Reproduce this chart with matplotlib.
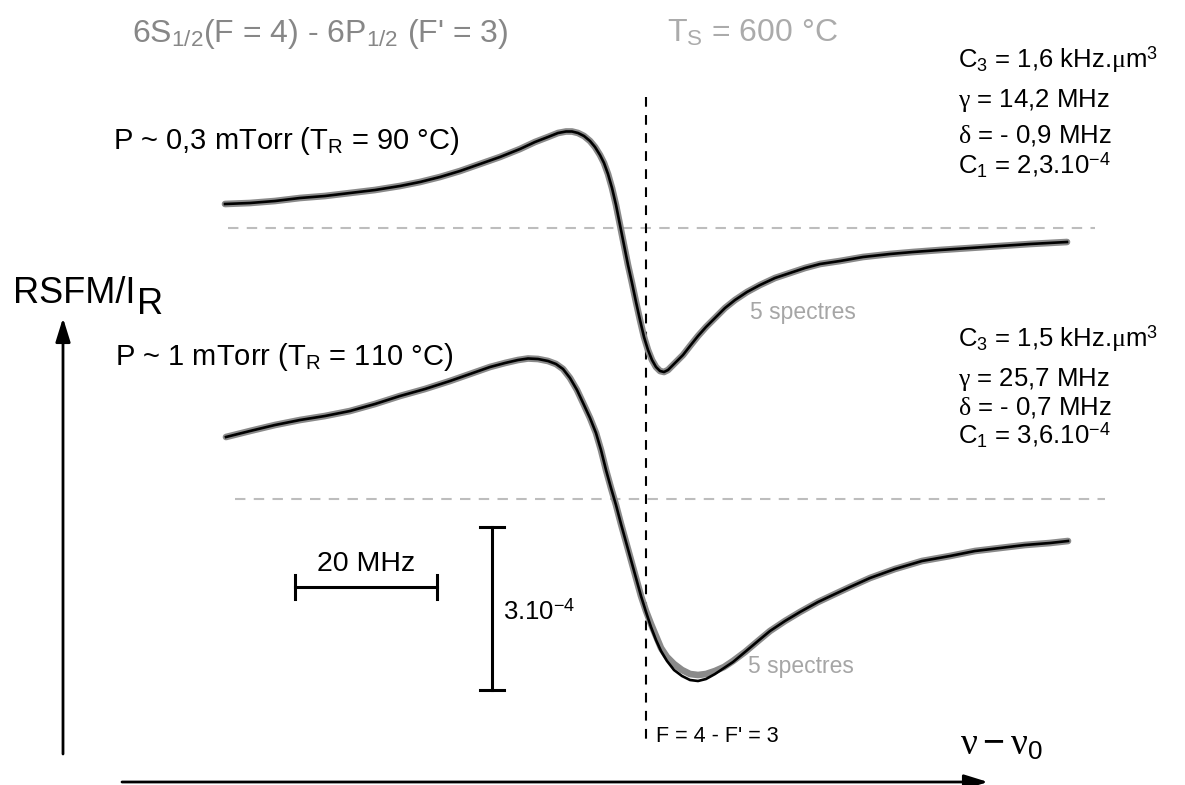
import matplotlib
matplotlib.use('Agg')
import matplotlib.pyplot as plt

plt.rcParams['font.family'] = ['Liberation Sans', 'DejaVu Sans']
plt.rcParams['mathtext.fontset'] = 'custom'
plt.rcParams['mathtext.rm'] = 'Liberation Sans'
plt.rcParams['mathtext.it'] = 'Liberation Serif'
plt.rcParams['mathtext.bf'] = 'Liberation Sans:bold'
plt.rcParams['lines.scale_dashes'] = False

# spectra (x, y in pixels of the original figure, y downward)
top_x = [225, 250, 275, 300, 325, 350, 375, 400, 420, 440, 460, 480, 500, 520, 535,
         548, 558, 566, 572, 578, 584, 590, 595, 600, 604, 608, 612, 616, 620, 624,
         628, 632, 636, 640, 644, 648, 652, 656, 660, 664, 668, 672, 677, 683, 690,
         698, 706, 715, 725, 735, 747, 760, 775, 790, 805, 820, 840, 863, 890, 913,
         940, 970, 1000, 1030, 1067]
top_y = [204, 203, 201, 198, 196, 193, 190, 186, 182, 177, 171, 164, 157, 149, 142,
         137, 133, 131.5, 131.5, 133, 136, 141, 147, 155, 163, 174, 188, 205, 225, 245,
         265, 283, 302, 320, 337, 350, 360, 367, 371, 372, 370, 366, 361, 355, 346,
         336, 327, 318, 308, 300, 292, 285, 278, 273, 268, 264, 261, 257, 254, 252,
         250, 248, 246, 244, 242]

bot_x = [226, 250, 275, 300, 325, 350, 375, 400, 425, 450, 470, 490, 505, 518, 528,
         538, 548, 556, 563, 570, 577, 584, 590, 596, 601, 606, 611, 616, 621, 626,
         631, 636, 641, 646, 651, 656, 661, 667, 674, 682, 690, 698, 706, 715, 724,
         733, 745, 758, 770, 785, 800, 818, 835, 850, 870, 895, 922, 950, 975, 1000,
         1025, 1050, 1068]
bot_y = [437, 431, 425, 420, 416, 411, 404, 396, 389, 381, 374, 367, 363, 360, 358.5,
         359, 361, 364, 369, 378, 390, 405, 418, 433, 450, 470, 488, 505, 524, 542,
         560, 578, 596, 612, 627, 640, 651, 661, 670, 676, 680, 681, 679, 674, 668,
         662, 652, 641, 631, 621, 612, 602, 594, 587, 578, 569, 561, 556, 551, 548,
         545, 543, 541]
# measured data (grey) runs a little above the fit around the lower minimum
bot_data_y = [437, 431, 425, 420, 416, 411, 404, 396, 389, 381, 374, 367, 363, 360, 358.5,
              359, 361, 364, 369, 378, 390, 405, 418, 433, 450, 470, 488, 505, 524, 542,
              560, 578, 596, 611, 624, 636, 648, 657, 664, 670, 674, 675, 674, 671, 667,
              661, 652, 641, 631, 621, 612, 602, 594, 587, 578, 569, 561, 556, 551, 548,
              545, 543, 541]

zero_lines_y = [228, 499]
zero_lines_x = [(228, 1095), (235, 1105)]
resonance_x = 646

params_top = ['C$_3$ = 1,6 kHz.$\\mu$m$^3$', '$\\gamma$ = 14,2 MHz',
              '$\\delta$ = - 0,9 MHz', 'C$_1$ = 2,3.10$^{-4}$']
params_bot = ['C$_3$ = 1,5 kHz.$\\mu$m$^3$', '$\\gamma$ = 25,7 MHz',
              '$\\delta$ = - 0,7 MHz', 'C$_1$ = 3,6.10$^{-4}$']

fig = plt.figure(figsize=(11.85, 7.85), dpi=100)
ax = fig.add_axes([0, 0, 1, 1])
ax.set_xlim(0, 1185)
ax.set_ylim(785, 0)
ax.axis('off')

# zero lines
for y0, (xa, xb) in zip(zero_lines_y, zero_lines_x):
    ax.plot([xa, xb], [y0, y0], color='#bdbdbd', lw=1.5, dashes=(7.5, 6.0))

# resonance marker
ax.plot([resonance_x, resonance_x], [97, 745], color='black', lw=1.5, dashes=(7.0, 6.0))

# spectra: grey data under black fit
ax.plot(top_x, top_y, color='#8a8a8a', lw=4.8, solid_capstyle='round', solid_joinstyle='round')
ax.plot(top_x, top_y, color='black', lw=1.9, solid_joinstyle='round')
ax.plot(bot_x, bot_data_y, color='#8a8a8a', lw=4.8, solid_capstyle='round', solid_joinstyle='round')
ax.plot(bot_x, bot_y, color='black', lw=1.9, solid_joinstyle='round')

# scale bars
ax.plot([295, 437], [587, 587], color='black', lw=2.2)
ax.plot([295, 295], [575, 599], color='black', lw=2.2)
ax.plot([437, 437], [575, 599], color='black', lw=2.2)
ax.plot([492, 492], [527, 690], color='black', lw=2.2)
ax.plot([480, 504], [527, 527], color='black', lw=2.2)
ax.plot([480, 504], [690, 690], color='black', lw=2.2)
ax.text(366, 571, '20 MHz', fontsize=20.5, ha='center', va='baseline')
ax.text(503, 620, '3.10$^{-4}$', fontsize=18.5, ha='left', va='baseline')

# axes arrows
arrow = dict(arrowstyle='-|>,head_length=0.45,head_width=0.14', color='black',
             lw=2.0, mutation_scale=32, shrinkA=0, shrinkB=0)
ax.annotate('', xy=(63, 318), xytext=(63, 754), arrowprops=arrow)
ax.annotate('', xy=(988, 782), xytext=(122, 782), arrowprops=arrow)

# labels
ax.text(132, 42, '6S$_{1/2}$(F = 4) - 6P$_{1/2}$ (F\' = 3)', fontsize=23,
        color='#878787', va='baseline')
ax.text(667, 42, 'T$_\\mathrm{S}$ = 600 °C', fontsize=23, color='#ababab', va='baseline')
ax.text(113, 149, 'P ~ 0,3 mTorr (T$_\\mathrm{R}$ = 90 °C)', fontsize=21, va='baseline')
ax.text(115, 365, 'P ~ 1 mTorr (T$_\\mathrm{R}$ = 110 °C)', fontsize=21, va='baseline')
ax.text(13, 303, 'RSFM/I', fontsize=26, va='baseline')
ax.text(137, 314, 'R', fontsize=26, va='baseline')
ax.text(750, 313, '5 spectres', fontsize=16.5, color='#a6a6a6', va='center')
ax.text(748, 667, '5 spectres', fontsize=16.5, color='#a6a6a6', va='center')
ax.text(656, 742, "F = 4 - F' = 3", fontsize=15.5, va='baseline')
ax.text(960, 755, '$\\nu - \\nu_0$', fontsize=27, va='baseline')

for txt, yb in zip(params_top, [68, 107, 143, 173]):
    ax.text(958, yb, txt, fontsize=18.5, va='baseline')
for txt, yb in zip(params_bot, [347, 386, 414, 443]):
    ax.text(958, yb, txt, fontsize=18.5, va='baseline')

fig.savefig('out.png', dpi=100)
